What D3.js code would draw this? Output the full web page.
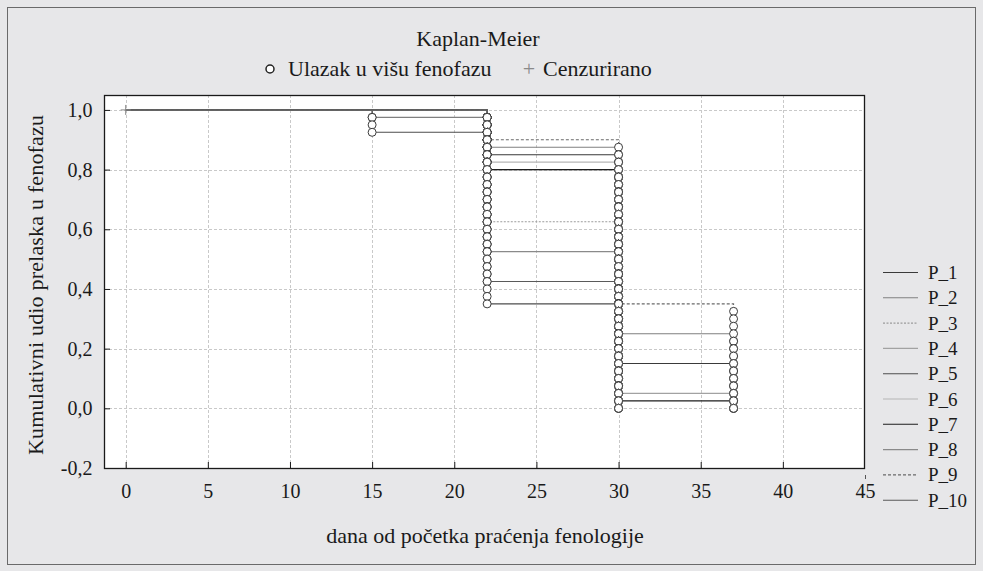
<!DOCTYPE html>
<html>
<head>
<meta charset="utf-8">
<script src="https://cdn.jsdelivr.net/npm/d3@7"></script>
<style>
  html, body { margin: 0; padding: 0; background: #e7e7e9; }
  svg { display: block; }
</style>
</head>
<body>
<svg id="chart" width="983" height="571"></svg>
<script>
// Event days (x) at which the Kaplan-Meier steps are evaluated
const times = [0, 15, 22, 30, 37];

// Group names and sizes
const groups = ["P_1", "P_2", "P_3", "P_4", "P_5", "P_6", "P_7", "P_8", "P_9", "P_10"];
const groupSize = [40, 40, 40, 40, 40, 40, 40, 40, 40, 40];

// Cumulative proportion still in the lower phenophase at each event day
const p1  = [1, 1,     0.85,  0.15,  0];
const p2  = [1, 0.975, 0.875, 0.25,  0];
const p3  = [1, 1,     0.625, 0];
const p4  = [1, 1,     0.8,   0.05,  0];
const p5  = [1, 0.925, 0.35,  0];
const p6  = [1, 1,     0.825, 0];
const p7  = [1, 1,     0.8,   0.025, 0];
const p8  = [1, 1,     0.525, 0];
const p9  = [1, 1,     0.9,   0.35,  0];
const p10 = [1, 1,     0.425, 0];
const survival = [p1, p2, p3, p4, p5, p6, p7, p8, p9, p10];

// Censored observations (day, proportion)
const censored = [[0, 1]];

// Axis ticks and their labels
const xTicks = [0, 5, 10, 15, 20, 25, 30, 35, 40, 45];
const xTickLabels = ["0", "5", "10", "15", "20", "25", "30", "35", "40", "45"];
const yTicks = [-0.2, 0, 0.2, 0.4, 0.6, 0.8, 1.0];
const yTickLabels = ["-0,2", "0,0", "0,2", "0,4", "0,6", "0,8", "1,0"];

// Line styles per group
const lineColor = ["#3a3a3a", "#808080", "#9c9c9c", "#a2a2a2", "#4e4e4e",
                   "#b6b6b6", "#1e1e1e", "#8a8a8a", "#6a6a6a", "#5a5a5a"];
const lineDash  = [null, null, "2,1.5", null, null, null, null, null, "3,2", null];

const FONT = '"Liberation Serif", "Times New Roman", serif';
const INK = "#1a1a1a";

const svg = d3.select("#chart");
const W = 983, H = 571;

function label(sel, size) {
  return sel.style("font-family", FONT).style("font-size", size + "px").style("fill", INK);
}

// Outer panel
svg.append("rect").attr("x", 0).attr("y", 0).attr("width", W).attr("height", H)
  .attr("fill", "#e7e7e9");
svg.append("rect").attr("x", 7.5).attr("y", 7.5).attr("width", 968).attr("height", 557)
  .attr("fill", "none").attr("stroke", "#6a6a6a").attr("stroke-width", 1);

const plot = { left: 104, right: 865, top: 95, bottom: 468 };
const x = d3.scaleLinear().domain([-1.32, 45]).range([plot.left, plot.right]);
const y = d3.scaleLinear().domain([-0.2, 1.05]).range([plot.bottom, plot.top]);

// Plot background
svg.append("rect").attr("x", plot.left).attr("y", plot.top)
  .attr("width", plot.right - plot.left).attr("height", plot.bottom - plot.top)
  .attr("fill", "#ffffff");

// Grid
const grid = svg.append("g").attr("stroke", "#c9c9c9").attr("stroke-width", 1)
  .attr("stroke-dasharray", "3,2").attr("shape-rendering", "crispEdges");
grid.selectAll("line.v").data(xTicks.filter(t => x(t) < plot.right - 1)).join("line")
  .attr("class", "v")
  .attr("x1", d => Math.round(x(d)) + 0.5).attr("x2", d => Math.round(x(d)) + 0.5)
  .attr("y1", plot.top).attr("y2", plot.bottom);
grid.selectAll("line.h").data(yTicks.filter(t => y(t) > plot.top + 1 && y(t) < plot.bottom - 1)).join("line")
  .attr("class", "h")
  .attr("x1", plot.left).attr("x2", plot.right)
  .attr("y1", d => Math.round(y(d)) + 0.5).attr("y2", d => Math.round(y(d)) + 0.5);

// Axes with inward ticks
const xAxis = d3.axisBottom(x).tickValues(xTicks)
  .tickFormat((d, i) => xTickLabels[i]).tickSize(-6).tickPadding(16);
const gx = svg.append("g").attr("transform", `translate(0,${plot.bottom})`).call(xAxis);
gx.select(".domain").remove();
gx.selectAll(".tick line").attr("stroke", INK);
label(gx.selectAll(".tick text"), 20);
// The last tick sits on the right border, so it is marked below the axis
gx.selectAll(".tick").filter(d => d === 45).select("line")
  .attr("y1", 7).attr("y2", 11).attr("stroke", "#555");

const yAxis = d3.axisLeft(y).tickValues(yTicks)
  .tickFormat((d, i) => yTickLabels[i]).tickSize(-6).tickPadding(11.5);
const gy = svg.append("g").attr("transform", `translate(${plot.left},0)`).call(yAxis);
gy.select(".domain").remove();
gy.selectAll(".tick line").attr("stroke", INK);
label(gy.selectAll(".tick text"), 20);

// Step curves
const curves = svg.append("g").attr("fill", "none").attr("stroke-width", 1.1);
survival.forEach((s, g) => {
  let dstr = `M${x(times[0])},${y(s[0])}`;
  for (let i = 1; i < s.length; i++) {
    dstr += `H${x(times[i])}V${y(s[i])}`;
  }
  curves.append("path").attr("d", dstr)
    .attr("stroke", lineColor[g])
    .attr("stroke-dasharray", lineDash[g]);
});

// Event markers: one circle per event, placed at each 1/n decrement
const events = [];
survival.forEach((s, g) => {
  const n = groupSize[g];
  for (let i = 1; i < s.length; i++) {
    const d = Math.round((s[i - 1] - s[i]) * n);
    for (let k = 1; k <= d; k++) {
      events.push({ t: times[i], v: s[i - 1] - k / n });
    }
  }
});
events.sort((a, b) => (a.t - b.t) || (b.v - a.v));
svg.append("g").selectAll("circle").data(events).join("circle")
  .attr("cx", d => x(d.t)).attr("cy", d => y(d.v)).attr("r", 4)
  .attr("fill", "#ffffff").attr("stroke", "#3c3c3c").attr("stroke-width", 1);

// Censored markers
const cz = svg.append("g").attr("stroke", "#8a8a8a").attr("stroke-width", 1);
censored.forEach(([t, v]) => {
  cz.append("line").attr("x1", x(t) - 5).attr("x2", x(t) + 5).attr("y1", y(v)).attr("y2", y(v));
  cz.append("line").attr("x1", x(t)).attr("x2", x(t)).attr("y1", y(v) - 5).attr("y2", y(v) + 5);
});

// Plot frame
svg.append("rect").attr("x", plot.left + 0.5).attr("y", plot.top + 0.5)
  .attr("width", plot.right - plot.left - 1).attr("height", plot.bottom - plot.top)
  .attr("fill", "none").attr("stroke", INK).attr("stroke-width", 1.3);

// Title and marker key
label(svg.append("text"), 22).attr("x", 478).attr("y", 46).attr("text-anchor", "middle")
  .text("Kaplan-Meier");
svg.append("circle").attr("cx", 270).attr("cy", 69).attr("r", 4)
  .attr("fill", "#ffffff").attr("stroke", "#222").attr("stroke-width", 1.5);
label(svg.append("text"), 22).attr("x", 288).attr("y", 76).text("Ulazak u višu fenofazu");
label(svg.append("text"), 22).attr("x", 529).attr("y", 76).attr("text-anchor", "middle")
  .style("fill", "#8a8a8a").text("+");
label(svg.append("text"), 22).attr("x", 543).attr("y", 76).text("Cenzurirano");

// Axis titles
label(svg.append("text"), 22).attr("x", 485).attr("y", 543).attr("text-anchor", "middle")
  .text("dana od početka praćenja fenologije");
label(svg.append("text"), 22).attr("transform", "translate(43,285) rotate(-90)")
  .attr("text-anchor", "middle")
  .attr("textLength", 340).attr("lengthAdjust", "spacing")
  .text("Kumulativni udio prelaska u fenofazu");

// Group legend
const leg = svg.append("g");
groups.forEach((name, i) => {
  const cy = 272.5 + i * 25.3;
  leg.append("line").attr("x1", 883).attr("x2", 918).attr("y1", cy).attr("y2", cy)
    .attr("stroke", lineColor[i]).attr("stroke-width", 1.1)
    .attr("stroke-dasharray", lineDash[i]);
  label(leg.append("text"), 19).attr("x", 928).attr("y", cy + 6.5).text(name);
});
</script>
</body>
</html>
